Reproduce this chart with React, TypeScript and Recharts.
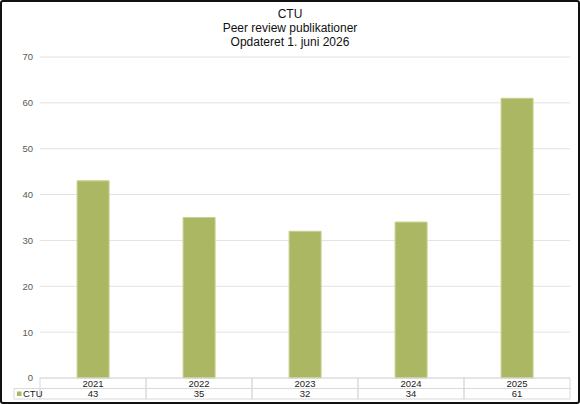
import { BarChart, Bar, XAxis, YAxis, CartesianGrid } from 'recharts'

const years = ['2021', '2022', '2023', '2024', '2025']
const ctuValues = [43, 35, 32, 34, 61]
const yTicks = [0, 10, 20, 30, 40, 50, 60, 70]
const seriesName = 'CTU'
const titleLines = ['CTU', 'Peer review publikationer', 'Opdateret 1. juni 2026']

const barColor = '#acb764'
const gridColor = '#e2e2e2'
const cellBorder = '#dadada'

const chartData = years.map((year, i) => ({ year, value: ctuValues[i] }))

// draws the data table under the plot, one column per category
const TableTick = (props: any) => {
  const { x, y, payload, width, visibleTicksCount, index } = props
  const cellW = (width ?? 530) / (visibleTicksCount ?? years.length)
  const left = x - cellW / 2
  const rowH = 10.5
  return (
    <g>
      <rect x={left} y={y} width={cellW} height={rowH} fill="none" stroke={cellBorder} />
      <rect x={left} y={y + rowH} width={cellW} height={rowH} fill="none" stroke={cellBorder} />
      <text x={x} y={y + rowH / 2 + 3.5} textAnchor="middle" fontSize={9.5} fill="#222">
        {payload.value}
      </text>
      <text x={x} y={y + rowH * 1.5 + 3.5} textAnchor="middle" fontSize={9.5} fill="#222">
        {ctuValues[index]}
      </text>
      {index === 0 && (
        <g>
          <rect x={left - 26} y={y + rowH} width={26} height={rowH} fill="none" stroke={cellBorder} />
          <rect x={left - 23} y={y + rowH + 3} width={4.5} height={4.5} fill={barColor} />
          <text x={left - 17} y={y + rowH * 1.5 + 3.5} fontSize={9.5} fill="#222">
            {seriesName}
          </text>
        </g>
      )}
    </g>
  )
}

export default function App() {
  return (
    <div
      style={{
        position: 'absolute',
        top: 0,
        left: 0,
        width: 580,
        height: 404,
        background: '#fff',
        fontFamily: '"Liberation Sans", Arial, sans-serif',
      }}
    >
      <div
        style={{
          position: 'absolute',
          top: 7,
          left: 0,
          width: 580,
          textAlign: 'center',
          fontSize: 12,
          lineHeight: '14px',
          color: '#111',
        }}
      >
        {titleLines.map(t => (
          <div key={t}>{t}</div>
        ))}
      </div>
      <BarChart
        width={580}
        height={404}
        data={chartData}
        margin={{ top: 57, right: 10, left: 10, bottom: 5 }}
        barCategoryGap="35%"
      >
        <CartesianGrid vertical={false} stroke={gridColor} />
        <XAxis
          dataKey="year"
          height={21}
          axisLine={false}
          tickLine={false}
          tickSize={0}
          tickMargin={0}
          interval={0}
          tick={<TableTick />}
        />
        <YAxis
          width={30}
          domain={[0, 70]}
          ticks={yTicks}
          axisLine={false}
          tickLine={false}
          tickSize={0}
          tickMargin={7}
          tick={{ fill: '#595959', fontSize: 9.5 }}
        />
        <Bar dataKey="value" fill={barColor} stroke="#c8d08f" strokeWidth={1} isAnimationActive={false} />
      </BarChart>
      <div
        style={{
          position: 'absolute',
          top: 0,
          left: 0,
          width: 580,
          height: 404,
          boxSizing: 'border-box',
          border: '2px solid #111',
          borderRadius: 3,
          pointerEvents: 'none',
        }}
      />
    </div>
  )
}
